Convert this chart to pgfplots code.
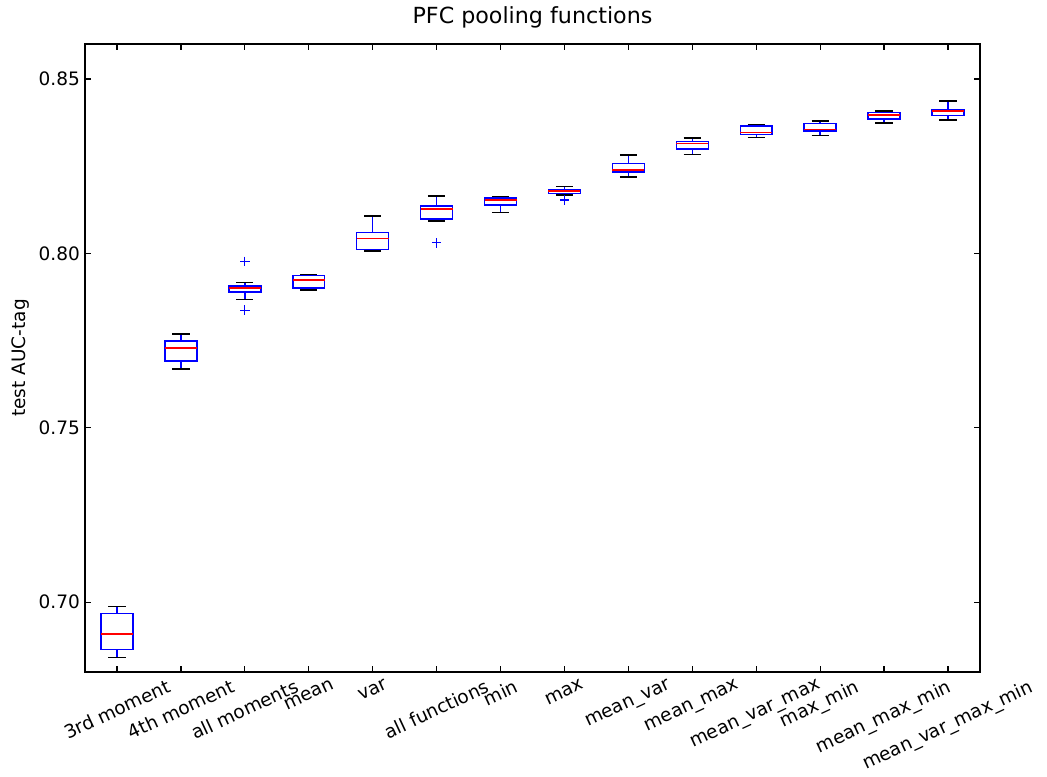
\documentclass[border=0pt]{standalone}
\usepackage{pgfplots}
\usepgfplotslibrary{statistics}
\pgfplotsset{compat=1.18}
\usepackage{graphicx}
\usepackage{fontspec}
\setmainfont{DejaVu Sans}
\pgfplotsset{
  mybox/.style={blue, solid, line width=1.5pt, mark=+, mark size=4.7pt, mark options={solid, blue, line width=1.2pt}},
}
\begin{document}
\fontsize{18.5}{22}\selectfont
\begin{tikzpicture}
% y values are AUC x 100
\begin{axis}[
  scale only axis,
  width=895pt, height=628pt,
  xmin=0.5, xmax=14.5,
  ymin=68, ymax=86,
  axis line style={line width=1.5pt},
  tick style={line width=1.3pt, black},
  major tick length=6.25pt,
  tick align=inside,
  xtick={1,...,14},
  xticklabels={
    \rotatebox{25}{3rd moment},
    \rotatebox{25}{4th moment},
    \rotatebox{25}{all moments},
    \rotatebox{25}{mean},
    \rotatebox{25}{var},
    \rotatebox{25}{all functions},
    \rotatebox{25}{min},
    \rotatebox{25}{max},
    \rotatebox{25}{mean\_var},
    \rotatebox{25}{mean\_max},
    \rotatebox{25}{mean\_var\_max},
    \rotatebox{25}{max\_min},
    \rotatebox{25}{mean\_max\_min},
    \rotatebox{25}{mean\_var\_max\_min}},
  xticklabel style={anchor=north, inner sep=0pt, yshift=-6.5pt},
  ytick={70,75,80,85},
  yticklabels={0.70,0.75,0.80,0.85},
  yticklabel style={anchor=east, inner sep=0pt, xshift=-5pt},
  title={PFC pooling functions},
  title style={font=\fontsize{22.2}{26}\selectfont, at={(rel axis cs:0.5,1)}, anchor=south, inner sep=0pt, yshift=10pt},
  ylabel={test AUC-tag},
  ylabel style={at={(rel axis cs:-0.0615,0.5)}, anchor=south, inner sep=0pt},
  boxplot/draw direction=y,
  boxplot/box extend=0.5,
  boxplot/whisker extend=0.27,
  boxplot/every box/.style={draw=blue, solid, fill=white, line width=1.5pt},
  boxplot/every median/.style={draw=red, solid, line width=1.5pt},
  boxplot/draw/lower whisker/.code={%
    \draw[blue, solid, line width=1.5pt] (boxplot box cs:\pgfplotsboxplotvalue{lower quartile},0.5) -- (boxplot box cs:\pgfplotsboxplotvalue{lower whisker},0.5);
    \draw[black, solid, line width=1.5pt] (boxplot whisker cs:\pgfplotsboxplotvalue{lower whisker},0) -- (boxplot whisker cs:\pgfplotsboxplotvalue{lower whisker},1);
  },
  boxplot/draw/upper whisker/.code={%
    \draw[blue, solid, line width=1.5pt] (boxplot box cs:\pgfplotsboxplotvalue{upper quartile},0.5) -- (boxplot box cs:\pgfplotsboxplotvalue{upper whisker},0.5);
    \draw[black, solid, line width=1.5pt] (boxplot whisker cs:\pgfplotsboxplotvalue{upper whisker},0) -- (boxplot whisker cs:\pgfplotsboxplotvalue{upper whisker},1);
  },
]
\addplot[mybox, boxplot prepared={draw direction=y, draw position=1, lower whisker=68.42, lower quartile=68.64, median=69.09, upper quartile=69.68, upper whisker=69.87}] coordinates {};
\addplot[mybox, boxplot prepared={draw direction=y, draw position=2, lower whisker=76.68, lower quartile=76.91, median=77.28, upper quartile=77.49, upper whisker=77.69}] coordinates {};
\addplot[mybox, boxplot prepared={draw direction=y, draw position=3, lower whisker=78.67, lower quartile=78.89, median=79.00, upper quartile=79.07, upper whisker=79.17}] table[row sep=\\, y index=0] {data\\ 79.77\\ 78.37\\};
\addplot[mybox, boxplot prepared={draw direction=y, draw position=4, lower whisker=78.95, lower quartile=79.01, median=79.24, upper quartile=79.37, upper whisker=79.40}] coordinates {};
\addplot[mybox, boxplot prepared={draw direction=y, draw position=5, lower whisker=80.06, lower quartile=80.11, median=80.42, upper quartile=80.59, upper whisker=81.07}] coordinates {};
\addplot[mybox, boxplot prepared={draw direction=y, draw position=6, lower whisker=80.93, lower quartile=80.99, median=81.27, upper quartile=81.36, upper whisker=81.64}] table[row sep=\\, y index=0] {data\\ 80.30\\};
\addplot[mybox, boxplot prepared={draw direction=y, draw position=7, lower whisker=81.17, lower quartile=81.38, median=81.53, upper quartile=81.58, upper whisker=81.63}] coordinates {};
\addplot[mybox, boxplot prepared={draw direction=y, draw position=8, lower whisker=81.67, lower quartile=81.71, median=81.79, upper quartile=81.81, upper whisker=81.92}] table[row sep=\\, y index=0] {data\\ 81.53\\};
\addplot[mybox, boxplot prepared={draw direction=y, draw position=9, lower whisker=82.19, lower quartile=82.33, median=82.39, upper quartile=82.57, upper whisker=82.82}] coordinates {};
\addplot[mybox, boxplot prepared={draw direction=y, draw position=10, lower whisker=82.83, lower quartile=82.99, median=83.15, upper quartile=83.20, upper whisker=83.30}] coordinates {};
\addplot[mybox, boxplot prepared={draw direction=y, draw position=11, lower whisker=83.32, lower quartile=83.41, median=83.46, upper quartile=83.65, upper whisker=83.68}] coordinates {};
\addplot[mybox, boxplot prepared={draw direction=y, draw position=12, lower whisker=83.38, lower quartile=83.50, median=83.55, upper quartile=83.72, upper whisker=83.79}] coordinates {};
\addplot[mybox, boxplot prepared={draw direction=y, draw position=13, lower whisker=83.73, lower quartile=83.85, median=83.97, upper quartile=84.04, upper whisker=84.08}] coordinates {};
\addplot[mybox, boxplot prepared={draw direction=y, draw position=14, lower whisker=83.82, lower quartile=83.95, median=84.08, upper quartile=84.12, upper whisker=84.36}] coordinates {};
\end{axis}
\pgfresetboundingbox
\useasboundingbox ([xshift=-85pt,yshift=-105pt]current axis.south west) rectangle ([xshift=67pt,yshift=44pt]current axis.north east);
\end{tikzpicture}
\end{document}
